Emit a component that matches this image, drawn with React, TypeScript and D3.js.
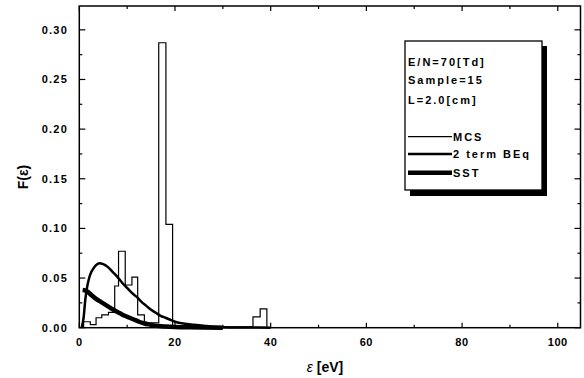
import React, { useEffect, useRef } from 'react';
import * as d3 from 'd3';

// MCS histogram: bin edges (eV) and heights
const mcsEdges = [0.9, 2.3, 3.5, 4.7, 6.1, 7.4, 8.2, 9.6, 11.0, 12.2, 13.6, 16.6, 18.1, 19.5, 36.3, 37.8, 39.2];
const mcsValues = [0.006, 0.003, 0.010, 0.013, 0.0155, 0.042, 0.077, 0.043, 0.051, 0.013, 0.005, 0.287, 0.104, 0.0008, 0.011, 0.019];

// 2 term Boltzmann equation
const beqE = [0.5, 0.9, 1.25, 1.6, 2.0, 2.5, 3.0, 3.5, 4.2, 5.0, 6.0, 7.0, 8.0, 9.0, 10, 11, 12, 13, 14, 15, 16, 17, 18, 19, 20, 22, 24, 26, 28, 30, 35, 40];
const beqF = [0, 0.010, 0.028, 0.040, 0.049, 0.056, 0.060, 0.063, 0.065, 0.064, 0.061, 0.056, 0.051, 0.045, 0.040, 0.035, 0.031, 0.026, 0.022, 0.018, 0.015, 0.012, 0.010, 0.008, 0.006, 0.004, 0.003, 0.002, 0.001, 0.0005, 0.0002, 0];

// SST
const sstE = [0.7, 1.5, 2.5, 3.5, 4.5, 5.5, 6.5, 7.5, 8.5, 9.5, 10.5, 11.5, 12.5, 13.5, 14.5, 16, 18, 20, 23, 26, 30];
const sstF = [0.038, 0.037, 0.033, 0.029, 0.026, 0.023, 0.020, 0.017, 0.0145, 0.012, 0.010, 0.008, 0.006, 0.0045, 0.0033, 0.002, 0.0012, 0.0007, 0.0004, 0.0002, 0];

const xTicks = [0, 20, 40, 60, 80, 100];
const xMinor = [10, 30, 50, 70, 90];
const yTicks = [0, 0.05, 0.1, 0.15, 0.2, 0.25, 0.3];
const yMinor = [0.025, 0.075, 0.125, 0.175, 0.225, 0.275];

const legendInfo = ['E/N=70[Td]', 'Sample=15', 'L=2.0[cm]'];
const legendSeries = [
    { name: 'MCS', width: 1.2 },
    { name: '2 term BEq', width: 2.5 },
    { name: 'SST', width: 4.5 },
];

export default function App() {
    const ref = useRef(null);
    const width = 584;
    const height = 378;
    const left = 79.3, right = 580.5, top = 6, bottom = 327.7;

    useEffect(() => {
        const svg = d3.select(ref.current);
        svg.selectAll('*').remove();

        const x = d3.scaleLinear().domain([0, 104.75]).range([left, right]);
        const y = d3.scaleLinear().domain([0, 0.324]).range([bottom, top]);
        const font = 'Arial, "Liberation Sans", Helvetica, sans-serif';

        // histogram
        const pts: [number, number][] = [[mcsEdges[0], 0]];
        mcsValues.forEach((v, i) => pts.push([mcsEdges[i], v]));
        pts.push([mcsEdges[mcsEdges.length - 1], 0]);
        const step = d3.line<[number, number]>()
            .x(d => x(d[0])).y(d => y(d[1]))
            .curve(d3.curveStepAfter);
        svg.append('path')
            .attr('d', step(pts))
            .attr('fill', 'none')
            .attr('stroke', '#000')
            .attr('stroke-width', 1.2);

        const smooth = d3.line<number>()
            .curve(d3.curveMonotoneX);

        const beq = d3.line<number>()
            .x(d => x(beqE[d])).y(d => y(beqF[d]))
            .curve(d3.curveMonotoneX);
        svg.append('path')
            .attr('d', beq(d3.range(beqE.length)))
            .attr('fill', 'none')
            .attr('stroke', '#000')
            .attr('stroke-width', 2.5)
            .attr('stroke-linejoin', 'round');

        const sst = d3.line<number>()
            .x(d => x(sstE[d])).y(d => y(sstF[d]))
            .curve(d3.curveMonotoneX);
        svg.append('path')
            .attr('d', sst(d3.range(sstE.length)))
            .attr('fill', 'none')
            .attr('stroke', '#000')
            .attr('stroke-width', 4.5)
            .attr('stroke-linejoin', 'round');

        // frame
        svg.append('rect')
            .attr('x', left).attr('y', top)
            .attr('width', right - left).attr('height', bottom - top)
            .attr('fill', 'none')
            .attr('stroke', '#000')
            .attr('stroke-width', 1.5);

        const ticks = svg.append('g').attr('stroke', '#000').attr('stroke-width', 1.2);
        xTicks.forEach(t => {
            ticks.append('line').attr('x1', x(t)).attr('x2', x(t)).attr('y1', bottom).attr('y2', bottom - 5);
            ticks.append('line').attr('x1', x(t)).attr('x2', x(t)).attr('y1', top).attr('y2', top + 5);
        });
        xMinor.forEach(t => {
            ticks.append('line').attr('x1', x(t)).attr('x2', x(t)).attr('y1', bottom).attr('y2', bottom - 3);
            ticks.append('line').attr('x1', x(t)).attr('x2', x(t)).attr('y1', top).attr('y2', top + 3);
        });
        yTicks.forEach(t => {
            ticks.append('line').attr('x1', left).attr('x2', left + 6).attr('y1', y(t)).attr('y2', y(t));
            ticks.append('line').attr('x1', right).attr('x2', right - 6).attr('y1', y(t)).attr('y2', y(t));
        });
        yMinor.forEach(t => {
            ticks.append('line').attr('x1', left).attr('x2', left + 3).attr('y1', y(t)).attr('y2', y(t));
            ticks.append('line').attr('x1', right).attr('x2', right - 3).attr('y1', y(t)).attr('y2', y(t));
        });

        // tick labels
        svg.append('g').selectAll('text').data(xTicks).join('text')
            .attr('x', d => x(d)).attr('y', 346)
            .attr('text-anchor', 'middle')
            .attr('font-family', font).attr('font-weight', 'bold').attr('font-size', 11)
            .attr('letter-spacing', 0.6)
            .text(d => d);
        svg.append('g').selectAll('text').data(yTicks).join('text')
            .attr('x', 68).attr('y', d => y(d) + 4)
            .attr('text-anchor', 'end')
            .attr('font-family', font).attr('font-weight', 'bold').attr('font-size', 11)
            .attr('letter-spacing', 1.2)
            .text(d => d3.format('.2f')(d));

        // axis titles
        const xt = svg.append('text')
            .attr('x', 325).attr('y', 372)
            .attr('text-anchor', 'middle')
            .attr('font-family', font).attr('font-weight', 'bold').attr('font-size', 14);
        xt.append('tspan').attr('font-style', 'italic').attr('font-weight', 'normal').text('ε');
        xt.append('tspan').text(' [eV]');

        svg.append('text')
            .attr('transform', 'translate(28,177) rotate(-90)')
            .attr('text-anchor', 'middle')
            .attr('font-family', font).attr('font-weight', 'bold').attr('font-size', 14)
            .text('F(ε)');

        // legend
        const lg = svg.append('g');
        lg.append('rect').attr('x', 410).attr('y', 46).attr('width', 137).attr('height', 150).attr('fill', '#000');
        lg.append('rect').attr('x', 405).attr('y', 41).attr('width', 137).attr('height', 149)
            .attr('fill', '#fff').attr('stroke', '#000').attr('stroke-width', 1.3);
        legendInfo.forEach((t, i) => {
            lg.append('text')
                .attr('x', 408).attr('y', [66, 84, 104][i])
                .attr('font-family', font).attr('font-weight', 'bold').attr('font-size', 11)
                .attr('letter-spacing', 2)
                .text(t);
        });
        legendSeries.forEach((s, i) => {
            const ly = [136.7, 154, 172.7][i];
            lg.append('line').attr('x1', 408).attr('x2', 452).attr('y1', ly).attr('y2', ly)
                .attr('stroke', '#000').attr('stroke-width', s.width);
            lg.append('text')
                .attr('x', 453).attr('y', ly + 4)
                .attr('font-family', font).attr('font-weight', 'bold').attr('font-size', 11)
                .attr('letter-spacing', 2)
                .text(s.name);
        });
    }, []);

    return (
        <svg ref={ref} width={width} height={height}
            style={{ position: 'absolute', left: 0, top: 0, background: '#fff' }} />
    );
}
